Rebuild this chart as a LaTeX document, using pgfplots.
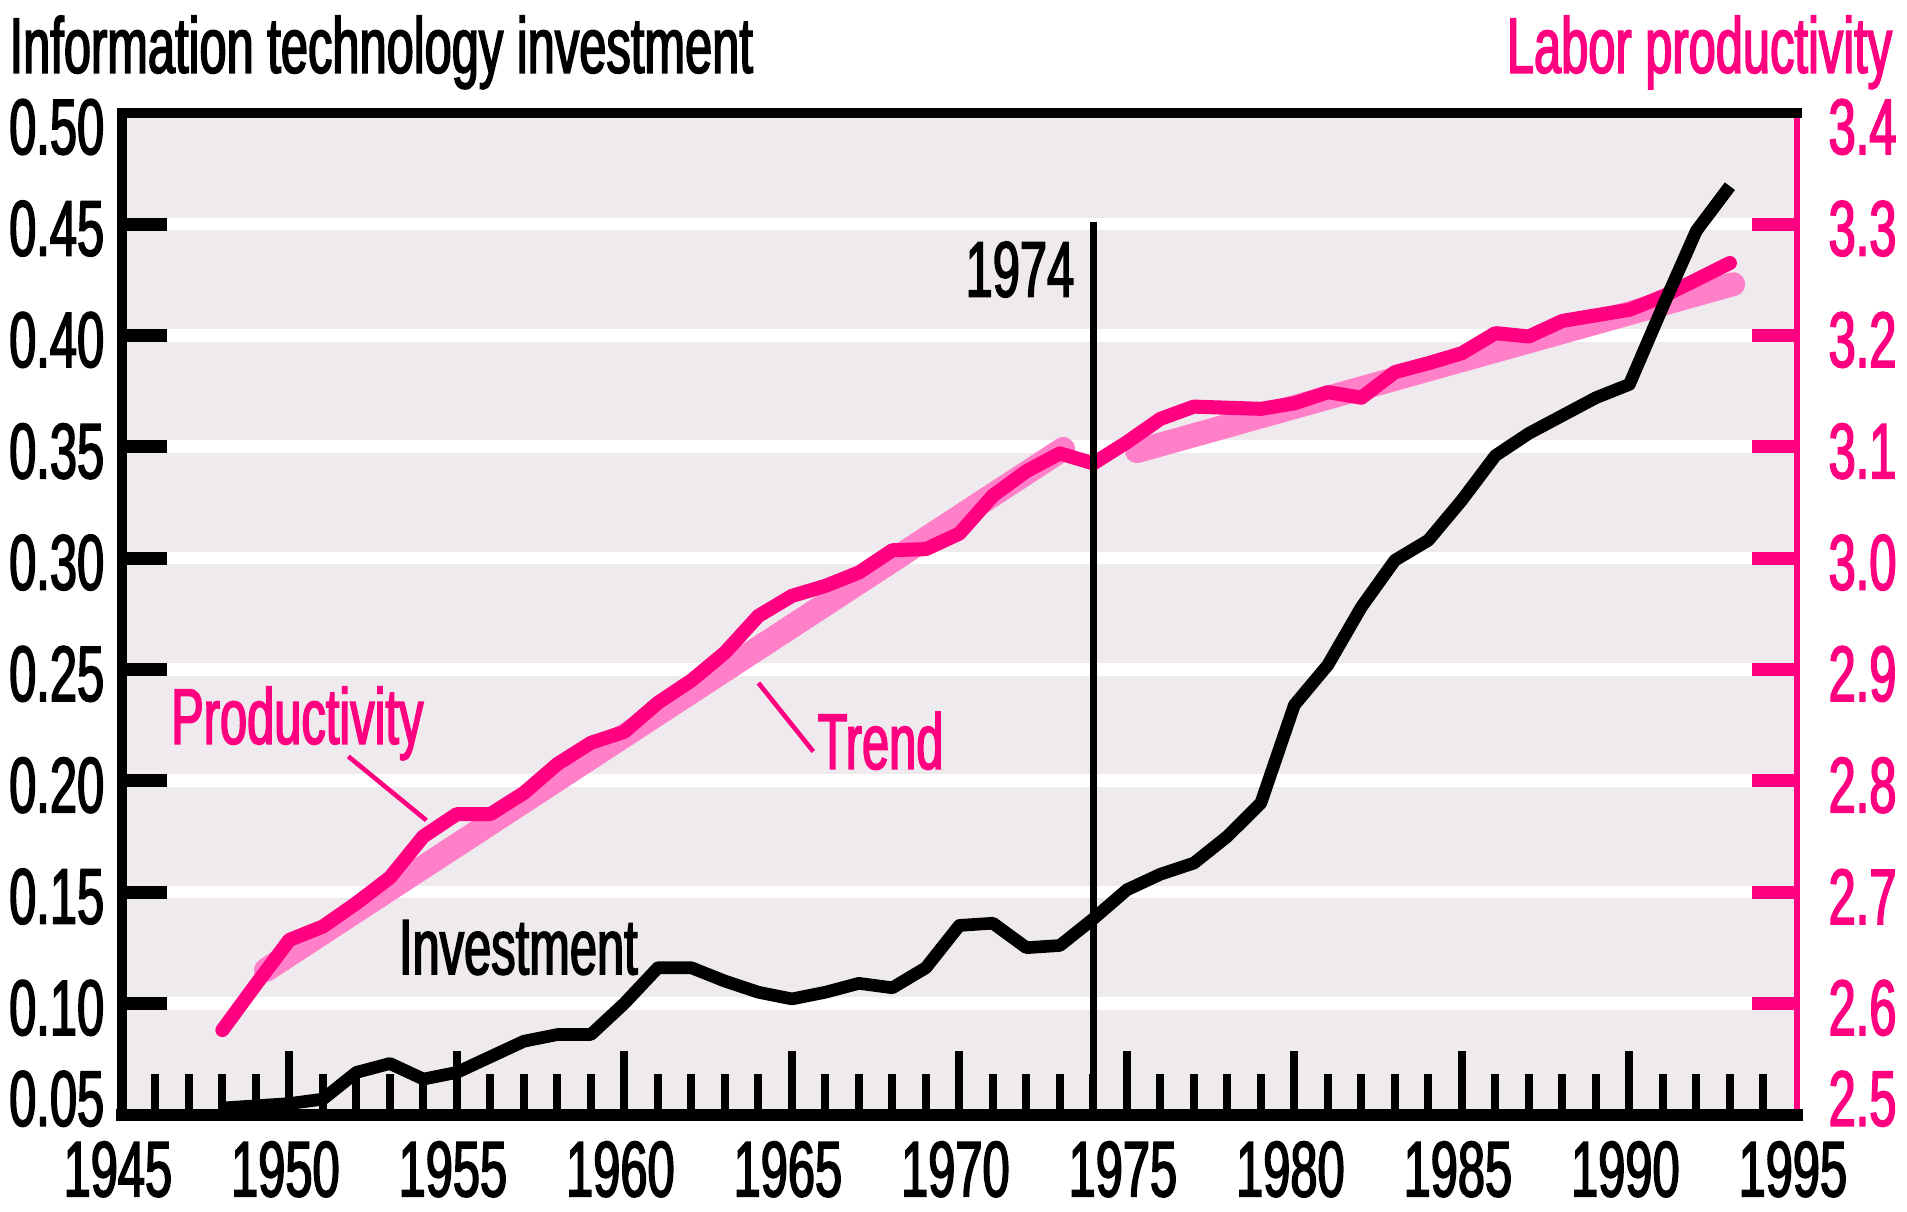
\documentclass[border=0pt]{standalone}
\usepackage{fontspec}
\setmainfont{Liberation Sans}[FakeStretch=0.62, FakeBold=2]
\usepackage{pgfplots}
\pgfplotsset{compat=1.18}
\definecolor{bgc}{HTML}{EEEAEE}
\definecolor{pk}{HTML}{FF0080}
\definecolor{tr}{HTML}{FF80C8}
\newcommand\bigfont{\fontsize{22.4}{26}\selectfont}
\pgfplotsset{
  base/.style={
    width=167.5mm, height=100.2mm, scale only axis,
    at={(0,0)}, anchor=south west,
    xmin=1945, xmax=1995,
    axis line style={draw=none},
    tick align=inside,
    clip=false,
  }
}
\begin{document}
\begin{tikzpicture}
\path[use as bounding box] (-12.19mm,-9.63mm) rectangle (178.51mm,111.47mm);
% Axis 1: background, grid, left ticks
\begin{axis}[base, ymin=0.05, ymax=0.50,
  axis background/.style={fill=bgc},
  xtick=\empty,
  ytick={0.10,0.15,0.20,0.25,0.30,0.35,0.40,0.45},
  yticklabels={0.10,0.15,0.20,0.25,0.30,0.35,0.40,0.45},
  ytick pos=left,
  major tick length=4.5mm,
  tick style={black, line width=3.7pt},
  ymajorgrids,
  major grid style={white, line width=3.6pt},
  yticklabel style={font=\bigfont, anchor=east, inner sep=0pt, xshift=-1.7mm, yshift=-0.45mm},
  extra y ticks={0.0592,0.4956},
  extra y tick labels={0.05,0.50},
  extra y tick style={tick style={draw=none}, major tick length=0pt, grid=none},
]
\addplot[draw=none] coordinates {(1945,0.05) (1995,0.5)};
\end{axis}
% Axis 2: productivity (right scale)
\begin{axis}[base, ymin=2.5, ymax=3.4,
  xtick=\empty,
  ytick={2.6,2.7,2.8,2.9,3.0,3.1,3.2,3.3},
  yticklabels={2.6,2.7,2.8,2.9,3.0,3.1,3.2,3.3},
  ytick pos=right,
  major tick length=4.5mm,
  tick style={pk, line width=3.7pt},
  yticklabel style={font=\bigfont, text=pk, anchor=west, inner sep=0pt, xshift=3.1mm, yshift=-0.45mm},
  extra y ticks={2.5184,3.3913},
  extra y tick labels={2.5,3.4},
  extra y tick style={tick style={draw=none}, major tick length=0pt},
]
\addplot[tr, line width=6.8pt, line cap=round] coordinates {(1949.3,2.630) (1973.1,3.098)};
\addplot[tr, line width=6.8pt, line cap=round] coordinates {(1975.3,3.096) (1993.1,3.246)};
\addplot[pk, line width=4pt, line join=round, line cap=round] coordinates {
(1948,2.576) (1949,2.617) (1950,2.657) (1951,2.669) (1952,2.690) (1953,2.713)
(1954,2.750) (1955,2.770) (1956,2.770) (1957,2.789) (1958,2.815) (1959,2.834)
(1960,2.844) (1961,2.870) (1962,2.890) (1963,2.915) (1964,2.948) (1965,2.966)
(1966,2.975) (1967,2.987) (1968,3.007) (1969,3.008) (1970,3.022) (1971,3.056)
(1972,3.078) (1973,3.094) (1974,3.085) (1975,3.104) (1976,3.125) (1977,3.136)
(1978,3.135) (1979,3.134) (1980,3.139) (1981,3.149) (1982,3.144) (1983,3.167)
(1984,3.175) (1985,3.184) (1986,3.202) (1987,3.199) (1988,3.213) (1989,3.218)
(1990,3.223) (1991,3.235) (1992,3.250) (1993,3.265)};
\end{axis}
% Axis 3: investment, x ticks, frame, annotations
\begin{axis}[base, ymin=0.05, ymax=0.50,
  ytick=\empty,
  xtick={1950,1955,...,1990},
  xticklabels={1950,1955,1960,1965,1970,1975,1980,1985,1990},
  minor xtick={1946,1947,...,1994},
  xtick pos=left,
  major tick length=6.4mm, minor tick length=4.1mm,
  tick style={black, line width=2.3pt},
  xticklabel style={font=\bigfont, anchor=north, inner sep=0pt, yshift=-2.6mm, xshift=-0.4mm},
  extra x ticks={1945,1995},
  extra x tick labels={1945,1995},
  extra x tick style={tick style={draw=none}, major tick length=0pt},
]
\addplot[black, line width=3.6pt, line join=round] coordinates {
(1948,0.053) (1949,0.054) (1950,0.055) (1951,0.057) (1952,0.069) (1953,0.073)
(1954,0.066) (1955,0.069) (1956,0.076) (1957,0.083) (1958,0.086) (1959,0.086)
(1960,0.100) (1961,0.116) (1962,0.116) (1963,0.110) (1964,0.105) (1965,0.102)
(1966,0.105) (1967,0.109) (1968,0.107) (1969,0.116) (1970,0.135) (1971,0.136)
(1972,0.125) (1973,0.126) (1974,0.138) (1975,0.151) (1976,0.158) (1977,0.163)
(1978,0.175) (1979,0.190) (1980,0.234) (1981,0.252) (1982,0.278) (1983,0.299)
(1984,0.308) (1985,0.326) (1986,0.346) (1987,0.356) (1988,0.364) (1989,0.372)
(1990,0.378) (1991,0.413) (1992,0.447) (1993,0.467)};
\addplot[black, line width=2.2pt] coordinates {(1974,0.05) (1974,0.451)};
\draw[pk, line width=1.3pt] (axis cs:1951.76,0.2109) -- (axis cs:1954.09,0.1822);
\draw[pk, line width=1.3pt] (axis cs:1964.0,0.2439) -- (axis cs:1965.64,0.2131);
\node[anchor=base west, inner sep=0pt, font=\bigfont, text=pk] at (axis cs:1946.45,0.2166) {Productivity};
\node[anchor=base west, inner sep=0pt, font=\bigfont, text=pk] at (axis cs:1965.75,0.2053) {Trend};
\node[anchor=base west, inner sep=0pt, font=\bigfont] at (axis cs:1953.25,0.1131) {Investment};
\node[anchor=base east, inner sep=0pt, font=\bigfont] at (axis cs:1973.45,0.4174) {1974};
% frame
\draw[pk, line width=1.8pt] (rel axis cs:1,0) -- (rel axis cs:1,1);
\draw[black, line width=2.8pt, line cap=rect] (rel axis cs:1,1) -- (rel axis cs:0,1) -- (rel axis cs:0,0);
\draw[black, line width=3.4pt, line cap=rect] (rel axis cs:0,0) -- (rel axis cs:1,0);
% titles
\node[anchor=base west, inner sep=0pt, font=\bigfont] at ([xshift=-11.3mm, yshift=4.0mm]rel axis cs:0,1) {Information technology investment};
\node[anchor=base east, inner sep=0pt, font=\bigfont, text=pk] at ([xshift=9.6mm, yshift=4.0mm]rel axis cs:1,1) {Labor productivity};
\end{axis}
\end{tikzpicture}
\end{document}
